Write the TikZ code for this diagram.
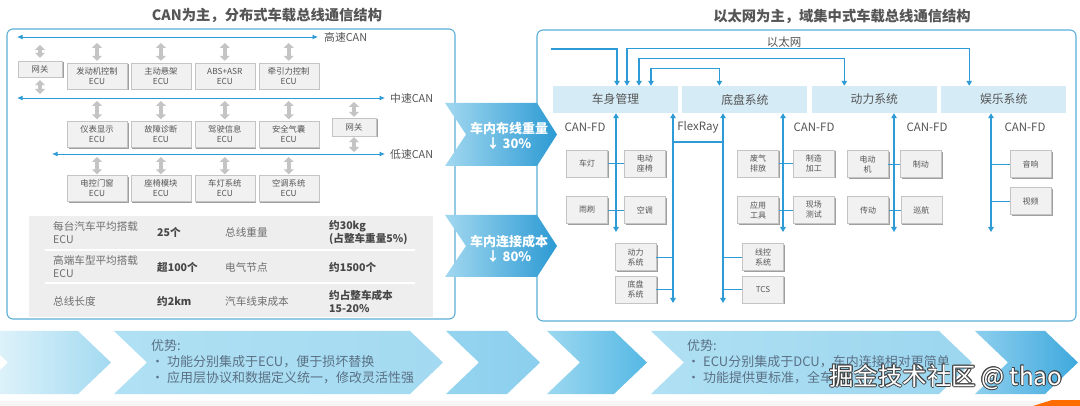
\documentclass[tikz,border=0pt]{standalone}
\usepackage{fontspec}
\setmainfont{Noto Sans CJK SC}
\usetikzlibrary{arrows.meta,shadows,positioning}

\definecolor{busblue}{HTML}{2E9BD6}
\definecolor{frameblue}{HTML}{5AAED8}
\definecolor{domfill}{HTML}{D5EBF6}
\definecolor{txtgray}{HTML}{555555}
\definecolor{txtdark}{HTML}{474747}
\definecolor{boxfill}{HTML}{F1F1F1}
\definecolor{boxline}{HTML}{C4C4C4}
\definecolor{tabfill}{HTML}{EEEEEE}
\definecolor{arrgray}{HTML}{C4C4C4}
\definecolor{advtxt}{HTML}{5B7185}
\definecolor{chevL}{HTML}{A2D8F0}
\definecolor{chevR}{HTML}{2C9AD3}
\definecolor{bandA1}{HTML}{EAF7FC}
\definecolor{bandA2}{HTML}{A3DAF1}
\definecolor{bandB1}{HTML}{B0E0F3}
\definecolor{bandB2}{HTML}{A3DAF1}
\definecolor{bandC1}{HTML}{95D4EF}
\definecolor{bandC2}{HTML}{8BCFEE}
\definecolor{bandD1}{HTML}{9CD8F0}
\definecolor{bandD2}{HTML}{55B8E4}
\definecolor{bandE1}{HTML}{B0E0F3}
\definecolor{bandE2}{HTML}{9BD6EF}
\definecolor{bandF1}{HTML}{8DCFEE}
\definecolor{bandF2}{HTML}{3FA9DD}

\tikzset{
  ecu/.style={draw=boxline, fill=boxfill, text=txtgray, font=\fontsize{8.3}{10}\selectfont,
    align=center, inner sep=0pt, minimum width=60pt, minimum height=26pt,
    drop shadow={shadow xshift=1.5pt, shadow yshift=-1.5pt, fill=gray!75, opacity=1}},
  dev/.style={ecu, font=\fontsize{8}{10}\selectfont, minimum width=41pt, minimum height=27pt},
  dombox/.style={fill=domfill, text=txtgray, font=\fontsize{11.8}{13}\selectfont,
    minimum width=125pt, minimum height=27pt, inner sep=0pt},
  title/.style={text=txtgray, font=\bfseries\fontsize{14.3}{16}\selectfont, inner sep=0pt},
  canbus/.style={draw=busblue, line width=0.9pt, {Latex[length=5.5pt,width=5pt]}-{Latex[length=5.5pt,width=5pt]}},
  canlbl/.style={text=txtgray, font=\fontsize{10.8}{12}\selectfont, inner sep=0pt, anchor=west},
  garrow/.style={draw=arrgray, line width=4pt, {Triangle[width=10pt,length=5pt]}-{Triangle[width=10pt,length=5pt]}},
  tabkey/.style={text=txtgray!85, font=\fontsize{10.6}{13}\selectfont, align=left, anchor=west, inner sep=0pt},
  tabval/.style={tabkey, text=txtdark, font=\bfseries\fontsize{10.6}{13}\selectfont},
  chevtxt/.style={text=white, font=\bfseries\fontsize{13}{15.5}\selectfont, align=center, inner sep=0pt},
  eth/.style={draw=busblue, line width=1.1pt},
  ethto/.style={-{Triangle[width=5.5pt,length=5pt]}},
  ethboth/.style={{Triangle[width=5.5pt,length=5pt]}-{Triangle[width=5.5pt,length=5pt]}},
  link/.style={draw=busblue, line width=0.9pt},
  buslbl/.style={text=txtgray, font=\fontsize{11.5}{13}\selectfont, inner sep=0pt},
  advtext/.style={text=advtxt, font=\fontsize{13}{16}\selectfont, align=left, anchor=west, inner sep=0pt},
  wmark/.style={font=\fontsize{24.4}{26}\selectfont, inner sep=0pt}
}

\begin{document}
\begin{tikzpicture}[x=1pt,y=-1pt]
    \useasboundingbox (0,0) rectangle (1080,406);
    \fill[white] (0,0) rectangle (1080,406);

    % Dibuja el panel izquierdo
    \draw[frameblue, line width=1.1pt, rounded corners=6pt] (7,29) rectangle (455,319);
    \node[title] (ltitle) at (267,15) {CAN为主，分布式车载总线通信结构};

    % Dibuja los buses CAN
    \coordinate (hsL) at (17,37);  \coordinate (hsR) at (318,37);
    \coordinate (msL) at (17,98);  \coordinate (msR) at (385,98);
    \coordinate (lsL) at (52,154); \coordinate (lsR) at (385,154);
    \draw[canbus] (hsL) -- (hsR);
    \draw[canbus] (msL) -- (msR);
    \draw[canbus] (lsL) -- (lsR);
    \node[canlbl, right=6pt of hsR] (hslbl) {高速CAN};
    \node[canlbl, right=5pt of msR] (mslbl) {中速CAN};
    \node[canlbl, right=5pt of lsR] (lslbl) {低速CAN};

    % Dibuja las ECU
    \node[ecu, minimum width=44pt, minimum height=16pt] (gw1) at (40,69) {网关};
    \node[ecu] (engecu) at (97,76) {发动机控制\\ECU};
    \node[ecu, right=3.5pt of engecu] (suspecu) {主动悬架\\ECU};
    \node[ecu, right=3.5pt of suspecu] (absecu) {ABS+ASR\\ECU};
    \node[ecu, right=3.5pt of absecu] (tracecu) {牵引力控制\\ECU};
    \node[ecu] (dispecu) at (97,134.5) {仪表显示\\ECU};
    \node[ecu, right=3.5pt of dispecu] (diagecu) {故障诊断\\ECU};
    \node[ecu, right=3.5pt of diagecu] (drvecu) {驾驶信息\\ECU};
    \node[ecu, right=3.5pt of drvecu] (bagecu) {安全气囊\\ECU};
    \node[ecu, minimum width=44pt, minimum height=18pt] (gw2) at (354,127) {网关};
    \node[ecu] (doorecu) at (97,188.5) {电控门窗\\ECU};
    \node[ecu, right=3.5pt of doorecu] (seatecu) {座椅模块\\ECU};
    \node[ecu, right=3.5pt of seatecu] (lampecu) {车灯系统\\ECU};
    \node[ecu, right=3.5pt of lampecu] (airecu) {空调系统\\ECU};

    % Flechas grises hacia los buses
    \foreach \n in {engecu,suspecu,absecu,tracecu}
        \draw[garrow, shorten <=6pt, shorten >=2pt] (\n.north |- hsL) -- (\n.north);
    \foreach \n in {dispecu,diagecu,drvecu,bagecu}
        \draw[garrow, shorten <=3pt, shorten >=2pt] (\n.north |- msL) -- (\n.north);
    \foreach \n in {doorecu,seatecu,lampecu,airecu}
        \draw[garrow, shorten <=3pt, shorten >=1pt] (\n.north |- lsL) -- (\n.north);
    \draw[garrow, shorten <=8pt, shorten >=3pt] (gw1.north |- hsL) -- (gw1.north);
    \draw[garrow, shorten <=3pt, shorten >=4pt] (gw1.south) -- (gw1.south |- msL);
    \draw[garrow, shorten <=4pt, shorten >=1pt] (gw2.north |- msL) -- (gw2.north);
    \draw[garrow, shorten <=1pt, shorten >=2pt] (gw2.south) -- (gw2.south |- lsL);

    % Tabla de datos
    \fill[tabfill] (29,216) rectangle (433,317);
    \draw[white, line width=1.5pt] (45,250) -- (415,250);
    \draw[white, line width=1.5pt] (45,283) -- (415,283);
    \node[tabkey] (k1) at (53,232.5) {每台汽车平均搭载\\ECU};
    \node[tabval] (v1) at (157,232.5) {25个};
    \node[tabkey] (k2) at (225,232.5) {总线重量};
    \node[tabval] (v2) at (329,232.5) {约30kg\\(占整车重量5\%)};
    \node[tabkey] (k3) at (53,267) {高端车型平均搭载\\ECU};
    \node[tabval] (v3) at (157,267) {超100个};
    \node[tabkey] (k4) at (225,267) {电气节点};
    \node[tabval] (v4) at (329,267) {约1500个};
    \node[tabkey] (k5) at (53,301) {总线长度};
    \node[tabval] (v5) at (157,301) {约2km};
    \node[tabkey] (k6) at (225,301) {汽车线束成本};
    \node[tabval] (v6) at (329,301) {约占整车成本\\15-20\%};

    % Dibuja el panel derecho
    \draw[frameblue, line width=1.1pt, rounded corners=6pt] (537,30) rectangle (1076,321);
    \node[title] (rtitle) at (842,16) {以太网为主，域集中式车载总线通信结构};

    % Flechas centrales
    \shade[left color=chevL, right color=chevR] (445,103) -- (537,103) -- (557,134.5)
        -- (537,166) -- (445,166) -- (466,134.5) -- cycle;
    \shade[left color=chevL, right color=chevR] (445,215) -- (537,215) -- (557,246)
        -- (537,277) -- (445,277) -- (466,246) -- cycle;
    \node[chevtxt] (wgt) at (509,136) {车内布线重量\\↓ 30\%};
    \node[chevtxt] (cost) at (509,249) {车内连接成本\\↓ 80\%};

    % Dominios
    \node[dombox] (body) at (615.5,99.5) {车身管理};
    \node[dombox, right=4pt of body] (chassis) {底盘系统};
    \node[dombox, right=4pt of chassis] (power) {动力系统};
    \node[dombox, right=4pt of power] (media) {娱乐系统};

    % Red Ethernet
    \coordinate (eth0) at (551,49);
    \draw[eth, ethto] (eth0) -| ([xshift=1.5pt]body.north);
    \draw[eth, ethboth] ([xshift=11.5pt]body.north) -- ++(0,-37) -| ([xshift=-34.5pt]media.north);
    \draw[eth, ethboth] ([xshift=23.5pt]body.north) -- ++(0,-27) -| ([xshift=-30pt]power.north);
    \draw[eth, ethboth] ([xshift=35.5pt]body.north) -- ++(0,-17) -| ([xshift=-25.5pt]chassis.north);
    \node[buslbl] (ethlbl) at (784,42) {以太网};

    % Buses de cada dominio
    \coordinate (bodyEnd) at (616,232);
    \coordinate (frA) at (673,303);
    \coordinate (frB) at (723,303);
    \coordinate (frJ) at (673,142);
    \coordinate (chEnd) at (783,232);
    \coordinate (pwEnd) at (894,232);
    \coordinate (mdEnd) at (991,232);
    \draw[eth, ethboth] (bodyEnd |- body.south) -- (bodyEnd);
    \draw[eth, ethboth] (frA |- body.south) -- (frA);
    \draw[eth, ethboth] (frB |- chassis.south) -- (frB);
    \draw[eth] (frJ) -- (frJ -| frB);
    \draw[eth, ethboth] (chEnd |- chassis.south) -- (chEnd);
    \draw[eth, ethboth] (pwEnd |- power.south) -- (pwEnd);
    \draw[eth, ethboth] (mdEnd |- media.south) -- (mdEnd);
    \node[buslbl] (fd1) at (585,127) {CAN-FD};
    \node[buslbl] (flx) at (698,127) {FlexRay};
    \node[buslbl] (fd2) at (814,127) {CAN-FD};
    \node[buslbl] (fd3) at (927,127) {CAN-FD};
    \node[buslbl] (fd4) at (1025,127) {CAN-FD};

    % Dispositivos
    \node[dev] (lamp) at (587,163.5) {车灯};
    \node[dev, right=16.5pt of lamp] (eseat) {电动\\座椅};
    \node[dev] (wiper) at (587,210) {雨刷};
    \node[dev, right=16.5pt of wiper] (aircon) {空调};
    \node[dev] (pwrsys) at (635.5,257) {动力\\系统};
    \node[dev] (chssys) at (635.5,289.5) {底盘\\系统};
    \node[dev] (exh) at (758,163.5) {废气\\排放};
    \node[dev, right=14.5pt of exh] (mfg) {制造\\加工};
    \node[dev] (tool) at (758,210) {应用\\工具};
    \node[dev, right=14.5pt of tool] (test) {现场\\测试};
    \node[dev] (wirectl) at (763,257) {线控\\系统};
    \node[dev] (tcs) at (763,289.5) {TCS};
    \node[dev] (motor) at (867.5,164) {电动\\机};
    \node[dev, right=12pt of motor] (brake) {制动};
    \node[dev] (trans) at (868,210) {传动};
    \node[dev, right=12pt of trans] (cruise) {巡航};
    \node[dev] (audio) at (1030.5,164) {音响};
    \node[dev] (video) at (1030.5,201) {视频};
    \draw[link] (lamp.east) -- (eseat.west);
    \draw[link] (wiper.east) -- (aircon.west);
    \draw[link] (pwrsys.east) -- (pwrsys.east -| frA);
    \draw[link] (chssys.east) -- (chssys.east -| frA);
    \draw[link] (exh.east) -- (mfg.west);
    \draw[link] (tool.east) -- (test.west);
    \draw[link] (wirectl.west) -- (wirectl.west -| frB);
    \draw[link] (tcs.west) -- (tcs.west -| frB);
    \draw[link] (motor.east) -- (brake.west);
    \draw[link] (trans.east) -- (cruise.west);
    \draw[link] (audio.west) -- (audio.west -| mdEnd);
    \draw[link] (video.west) -- (video.west -| mdEnd);

    % Banda inferior
    \foreach \a/\b/\c in {-25/111/A, 114/443/B, 446/540/C, 547/647/D, 651/972/E, 975/1078/F}
        \shade[left color=band\c1, right color=band\c2] (\a,331) -- (\b-33,331) -- (\b,362.5)
            -- (\b-33,394) -- (\a,394) -- (\a+33,362.5) -- cycle;
    \fill[gray!8] (0,401) rectangle (1080,406);
    \fill[orange!85!red] (1033,406) -- (1052,400) -- (1080,400) -- (1080,406) -- cycle;
    \node[advtext] (advL) at (151,362) {优势:\\\makebox[16pt][l]{•}功能分别集成于ECU，便于损坏替换\\\makebox[16pt][l]{•}应用层协议和数据定义统一，修改灵活性强};
    \node[advtext] (advR) at (687,362) {优势:\\\makebox[16pt][l]{•}ECU分别集成于DCU，车内连接相对更简单\\\makebox[16pt][l]{•}功能提供更标准，全车};

    % Marca de agua
    \foreach \dx/\dy [count=\i] in {-0.8/0,0.8/0,0/-0.8,0/0.8,-0.6/-0.6,0.6/0.6,-0.6/0.6,0.6/-0.6}
        \node[wmark, text=black!75] (wmsh\i) at (946+\dx,377+\dy) {掘金技术社区 @ thao};
    \node[wmark, text=white] (wm) at (946,377) {掘金技术社区 @ thao};
\end{tikzpicture}
\end{document}
